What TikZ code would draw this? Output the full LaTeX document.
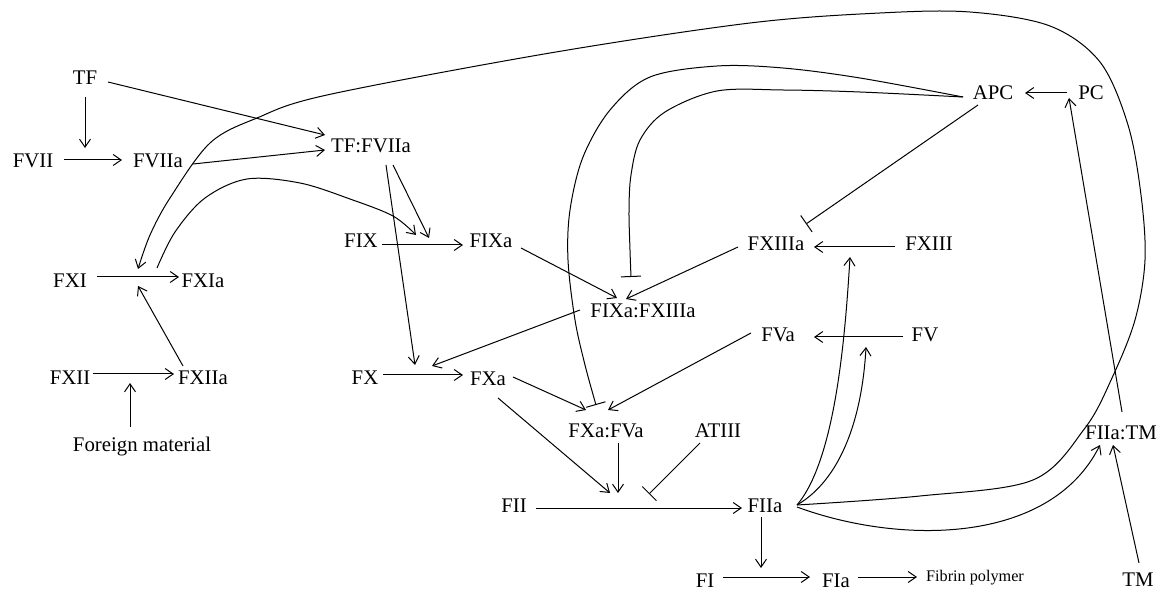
\documentclass[tikz,border=0pt]{standalone}
\usepackage{fontspec}
\setmainfont{Liberation Serif}
\usetikzlibrary{arrows.meta,calc}
\begin{document}
\begin{tikzpicture}[x=1pt,y=-1pt,line width=1pt,
  lbl/.style={inner sep=0pt,text height=13.9pt,text depth=0pt,font=\fontsize{20.8}{24}\selectfont},
  small/.style={inner sep=0pt,text height=10.6pt,text depth=0pt,font=\fontsize{16.2}{18}\selectfont},
  arr/.style={-{Straight Barb[length=8pt,width=11pt]}},
  inh/.style={-{Bar[width=20pt]}}]
\useasboundingbox (0,0) rectangle (1170,593);
% nodes
\node[lbl] (TF) at (85,78) {TF};
\node[lbl] (FVII) at (33,161) {FVII};
\node[lbl] (FVIIa) at (158,161) {FVIIa};
\node[lbl] (TFFVIIa) at (371,146) {TF:FVIIa};
\node[lbl] (FIX) at (361,241) {FIX};
\node[lbl] (FIXa) at (491,241) {FIXa};
\node[lbl] (FIXaFXIIIa) at (643,311) {FIXa:FXIIIa};
\node[lbl] (FXI) at (70,281) {FXI};
\node[lbl] (FXIa) at (203,281) {FXIa};
\node[lbl] (FXII) at (70,378) {FXII};
\node[lbl] (FXIIa) at (203,378) {FXIIa};
\node[lbl] (FM) at (142,445) {Foreign material};
\node[lbl] (FX) at (365,378) {FX};
\node[lbl] (FXa) at (488,379) {FXa};
\node[lbl] (FXaFVa) at (606,431) {FXa:FVa};
\node[lbl] (ATIII) at (718,431) {ATIII};
\node[lbl] (FVa) at (778,335) {FVa};
\node[lbl] (FV) at (925,335) {FV};
\node[lbl] (FXIIIa) at (776,244) {FXIIIa};
\node[lbl] (FXIII) at (929,244) {FXIII};
\node[lbl] (APC) at (993,93) {APC};
\node[lbl] (PC) at (1091,93) {PC};
\node[lbl] (FIIaTM) at (1121,433) {FIIa:TM};
\node[lbl] (TM) at (1138,580) {TM};
\node[lbl] (FIIa) at (765,506) {FIIa};
\node[lbl] (FII) at (514,506) {FII};
\node[lbl] (FI) at (705,581) {FI};
\node[lbl] (FIa) at (836,581) {FIa};
\node[small] (FP) at (975,576) {Fibrin polymer};
% junction points
\coordinate (j1) at (85,148);
\coordinate (j2a) at (429,238);
\coordinate (j2b) at (416,235);
\coordinate (j3a) at (432,366);
\coordinate (j3b) at (415,365);
\coordinate (j4a) at (610,493);
\coordinate (j4b) at (618,493);
\coordinate (j4c) at (649,494);
\coordinate (j5) at (761,568);
\coordinate (j6a) at (850,257);
\coordinate (j6b) at (866,347);
\coordinate (j7) at (138,286);
\coordinate (j8) at (130,383);
\coordinate (j9) at (138,269);
% straight connectors
\draw[arr] ($(TF)+(0,19)$) -- (j1);
\draw[arr] ($(FVII)+(31,-1)$) -- ($(FVIIa)+(-36,-1)$);
\draw[arr] ($(TF)+(23,4)$) -- ($(TFFVIIa)+(-46,-11)$);
\draw[arr] ($(FVIIa)+(35,3)$) -- ($(TFFVIIa)+(-46,4)$);
\draw[arr] ($(TFFVIIa)+(22,19)$) -- (j2a);
\draw[arr] ($(TFFVIIa)+(15,19)$) -- (j3b);
\draw[arr] ($(FIX)+(21,4)$) -- ($(FIXa)+(-28,4)$);
\draw[arr] ($(FIXa)+(30,7)$) -- ($(FIXaFXIIIa)+(-26,-13)$);
\draw[arr] ($(FXIIIa)+(-38,3)$) -- ($(FIXaFXIIIa)+(-17,-12)$);
\draw[arr] ($(FXIII)+(-34,3)$) -- ($(FXIIIa)+(38,3)$);
\draw[inh] ($(APC)+(-15,12)$) -- ($(FXIIIa)+(30,-20)$);
\draw[arr] ($(PC)+(-24,0)$) -- ($(APC)+(32,0)$);
\draw[arr] ($(FIIaTM)+(1,-21)$) -- ($(PC)+(-22,5)$);
\draw[arr] ($(TM)+(1,-17)$) -- ($(FIIaTM)+(-8,12)$);
\draw[arr] ($(FIXaFXIIIa)+(-63,-1)$) -- (j3a);
\draw[arr] ($(FX)+(18,-3)$) -- ($(FXa)+(-25,-4)$);
\draw[arr] ($(FXa)+(25,-2)$) -- ($(FXaFVa)+(-20,-21)$);
\draw[arr] ($(FVa)+(-27,-2)$) -- ($(FXaFVa)+(2,-21)$);
\draw[arr] ($(FV)+(-22,2)$) -- ($(FVa)+(36,2)$);
\draw[arr] ($(FXa)+(10,19)$) -- (j4a);
\draw[arr] ($(FXaFVa)+(12,12)$) -- (j4b);
\draw[inh] ($(ATIII)+(-18,12)$) -- (j4c);
\draw[arr] ($(FII)+(22,2)$) -- ($(FIIa)+(-23,2)$);
\draw[arr] ($(FIIa)+(-4,11)$) -- (j5);
\draw[arr] ($(FI)+(18,-4)$) -- ($(FIa)+(-26,-4)$);
\draw[arr] ($(FIa)+(22,-4)$) -- ($(FP)+(-58,1)$);
\draw[arr] ($(FXIIa)+(-20,-12)$) -- (j7);
\draw[arr] ($(FXII)+(23,-4)$) -- ($(FXIIa)+(-29,-4)$);
\draw[arr] ($(FM)+(-12,-18)$) -- (j8);
\draw[arr] ($(FXI)+(27,-4)$) -- ($(FXIa)+(-24,-4)$);
% curved connectors
\draw[arr] ($(FIIa)+(32,1)$) .. controls (900,545) and (1050,545) .. ($(FIIaTM)+(-21,12)$);
\draw[arr] ($(FIIa)+(32,-1)$) .. controls (835,460) and (845,340) .. (j6a);
\draw[arr] ($(FIIa)+(32,-1)$) .. controls (840,480) and (862,420) .. (j6b);
\draw[arr] plot[smooth,tension=0.55] coordinates {($(FXIa)+(-46,-13)$) (175,232) (205,198) (247,179) (300,183) (350,199) (393,216) (j2b)};
\draw[inh] plot[smooth,tension=0.55] coordinates {($(APC)+(-30,4)$) (860,78) (783,68) (717,66) (650,77) (610,110) (583,157) (570,210) (568,260) (575,320) (585,365) ($(FXaFVa)+(-10,-26)$)};
\draw[inh] plot[smooth,tension=0.55] coordinates {($(APC)+(-30,4)$) (860,92) (783,90) (717,91) (665,112) (640,140) (631,175) (629,210) (630,250) ($(FIXaFXIIIa)+(-12,-34)$)};
\draw[arr] plot[smooth,tension=0.55] coordinates {($(FIIa)+(32,-1)$) (920,496) (1033,480) (1085,428) (1112,378) (1135,320) (1145,260) (1141,195) (1128,125) (1100,62) (1050,26) (970,12) (880,13) (750,23) (550,53) (327,95) (257,118) (210,143) (170,198) (150,235) (j9)};
\end{tikzpicture}
\end{document}
